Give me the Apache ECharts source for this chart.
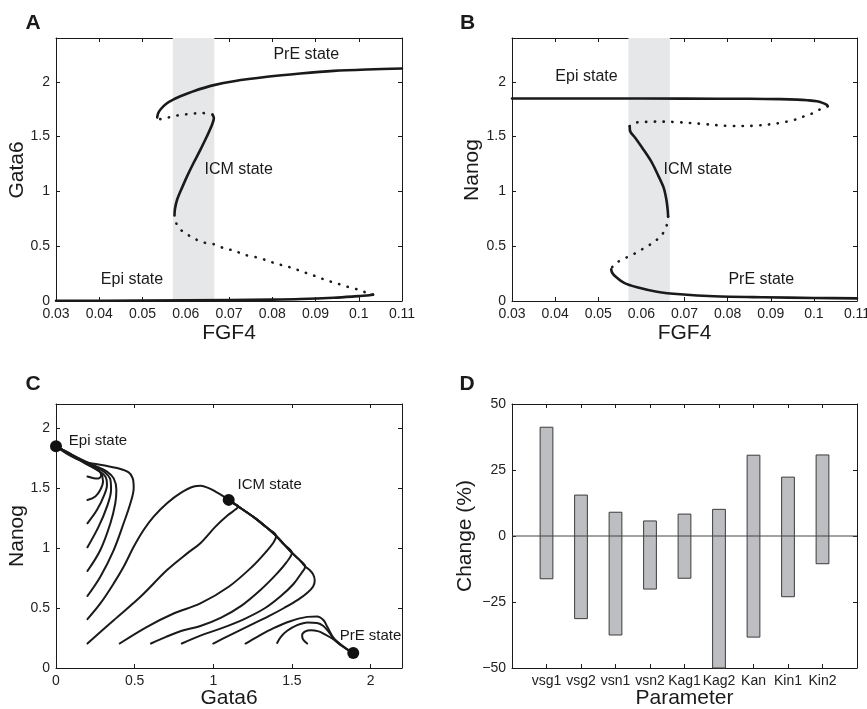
<!DOCTYPE html>
<html><head><meta charset="utf-8">
<script src="https://cdn.jsdelivr.net/npm/echarts@6/dist/echarts.min.js"></script>
<style>html,body{margin:0;padding:0;background:#fff}#c{width:867px;height:709px}</style>
</head><body><div id="c"></div><script>
const FONT = 'Liberation Sans, Arial, Helvetica, sans-serif';
const INK = '#1a1a1a';

// ---------- Panel A : Gata6 vs FGF4 ----------
const shadeRange = [0.057, 0.0666];
const aEpiStable = [[0.03,0.002],[0.05,0.004],[0.07,0.009],[0.08,0.013],[0.0865,0.018],[0.0942,0.03],[0.0985,0.04],[0.1004,0.046],[0.1025,0.053],[0.1033,0.058]];
const aUnstableLow = [[0.1033,0.058],[0.1015,0.08],[0.0996,0.107],[0.0973,0.131],[0.095,0.16],[0.093,0.183],[0.0907,0.216],[0.0888,0.244],[0.0869,0.268],[0.0848,0.30],[0.0826,0.323],[0.0806,0.345],[0.0784,0.375],[0.0762,0.40],[0.0738,0.42],[0.0711,0.46],[0.0688,0.482],[0.0665,0.518],[0.0641,0.534],[0.0618,0.573],[0.0599,0.619],[0.0587,0.655],[0.0578,0.71],[0.0574,0.78]];
const aIcmStable = [[0.0574,0.78],[0.0575,0.84],[0.058,0.924],[0.0591,1.03],[0.0603,1.137],[0.0618,1.259],[0.0634,1.381],[0.0649,1.503],[0.0661,1.61],[0.0665,1.67],[0.0662,1.70]];
const aUnstableHigh = [[0.0662,1.70],[0.0653,1.71],[0.0634,1.716],[0.0611,1.707],[0.0591,1.70],[0.0572,1.686],[0.0553,1.668],[0.0541,1.66],[0.0534,1.675]];
const aPrEStable = [[0.0534,1.675],[0.0536,1.71],[0.0542,1.75],[0.0555,1.80],[0.0572,1.84],[0.0595,1.88],[0.0618,1.915],[0.0665,1.97],[0.0711,2.006],[0.0788,2.046],[0.0865,2.076],[0.0942,2.10],[0.1019,2.113],[0.11,2.122]];

// ---------- Panel B : Nanog vs FGF4 ----------
const bEpiStable = [[0.03,1.848],[0.05,1.848],[0.07,1.847],[0.085,1.845],[0.0922,1.842],[0.0961,1.838],[0.0985,1.832],[0.1007,1.823],[0.102,1.808],[0.103,1.79],[0.1032,1.777]];
const bUnstableHigh = [[0.1032,1.777],[0.1015,1.75],[0.0999,1.716],[0.098,1.69],[0.0961,1.66],[0.0935,1.635],[0.0914,1.62],[0.0885,1.607],[0.0853,1.598],[0.082,1.597],[0.0791,1.60],[0.076,1.61],[0.0729,1.62],[0.07,1.628],[0.0667,1.635],[0.064,1.637],[0.0613,1.635],[0.0595,1.632],[0.0582,1.625],[0.0575,1.61],[0.0573,1.595]];
const bIcmStable = [[0.0573,1.595],[0.0574,1.549],[0.0586,1.488],[0.0605,1.381],[0.0625,1.259],[0.064,1.137],[0.0652,1.03],[0.0658,0.924],[0.0661,0.832],[0.0662,0.771]];
const bUnstableLow = [[0.0662,0.771],[0.066,0.71],[0.0655,0.65],[0.0644,0.588],[0.0625,0.527],[0.0605,0.48],[0.0586,0.436],[0.0567,0.40],[0.0547,0.36],[0.0536,0.33],[0.053,0.29]];
const bPrEStable = [[0.053,0.29],[0.0532,0.26],[0.054,0.223],[0.0559,0.168],[0.059,0.125],[0.0636,0.085],[0.069,0.061],[0.0768,0.043],[0.0883,0.034],[0.1,0.028],[0.11,0.024]];

// ---------- Panel C : trajectories Nanog vs Gata6 ----------
const cEpi1 = [[0.2,1.596],[0.24,1.582],[0.27,1.58],[0.287,1.605],[0.28,1.635],[0.25,1.665],[0.2,1.70],[0.13,1.75],[0.06,1.805],[0,1.847]];
const cEpi2 = [[0.2,1.40],[0.25,1.429],[0.282,1.485],[0.299,1.554],[0.286,1.624],[0.24,1.67],[0.16,1.73],[0.08,1.79],[0,1.847]];
const cEpi3 = [[0.2,1.206],[0.261,1.318],[0.307,1.443],[0.324,1.526],[0.314,1.596],[0.271,1.643],[0.2,1.695],[0.12,1.755],[0.05,1.812],[0,1.847]];
const cEpi4 = [[0.2,1.006],[0.271,1.178],[0.324,1.345],[0.35,1.485],[0.346,1.568],[0.303,1.637],[0.22,1.695],[0.13,1.755],[0.06,1.805],[0,1.847]];
const cEpi5 = [[0.2,0.808],[0.282,0.983],[0.346,1.206],[0.377,1.373],[0.384,1.485],[0.367,1.58],[0.324,1.637],[0.25,1.685],[0.15,1.745],[0.07,1.80],[0,1.847]];
const cEpi6 = [[0.2,0.6],[0.282,0.76],[0.367,0.983],[0.43,1.206],[0.473,1.373],[0.494,1.50],[0.488,1.58],[0.462,1.63],[0.388,1.666],[0.3,1.69],[0.176,1.72],[0.09,1.77],[0,1.847]];
const cIcmPeak = [[0.2,0.407],[0.282,0.538],[0.367,0.705],[0.43,0.844],[0.494,1.01],[0.557,1.15],[0.621,1.262],[0.706,1.373],[0.791,1.457],[0.876,1.512],[0.92,1.518],[0.971,1.499],[1.014,1.47],[1.06,1.435],[1.098,1.401]];
const cManifold = [[1.585,0.845],[1.545,0.905],[1.50,0.96],[1.45,1.03],[1.40,1.10],[1.34,1.17],[1.27,1.245],[1.21,1.30],[1.16,1.345],[1.13,1.372],[1.098,1.401]];
const cIcmRise1 = [[0.2,0.204],[0.367,0.398],[0.537,0.593],[0.706,0.816],[0.834,0.955],[0.918,1.04],[1.014,1.178],[1.09,1.27],[1.14,1.32],[1.16,1.345]];
const cIcmRise2 = [[0.405,0.204],[0.579,0.343],[0.748,0.454],[0.918,0.538],[1.098,0.677],[1.247,0.844],[1.34,0.975],[1.385,1.05],[1.40,1.10]];
const cIcmRise3 = [[0.604,0.204],[0.70,0.26],[0.80,0.31],[0.918,0.35],[1.05,0.42],[1.18,0.52],[1.30,0.65],[1.40,0.78],[1.465,0.88],[1.50,0.96]];
const cIcmRise4 = [[0.8,0.204],[0.918,0.27],[1.05,0.33],[1.2,0.41],[1.33,0.50],[1.43,0.60],[1.51,0.70],[1.56,0.79],[1.585,0.845]];
const cIcmRise5 = [[1.0,0.204],[1.1,0.27],[1.236,0.357],[1.35,0.43],[1.45,0.50],[1.54,0.57],[1.60,0.63],[1.635,0.68],[1.645,0.73],[1.635,0.78],[1.61,0.82],[1.585,0.845]];
const cPrE1 = [[1.205,0.204],[1.28,0.26],[1.38,0.33],[1.49,0.39],[1.597,0.426],[1.66,0.43],[1.70,0.40],[1.725,0.343],[1.767,0.246],[1.83,0.176],[1.89,0.125]];
const cPrE2 = [[1.406,0.209],[1.43,0.26],[1.47,0.31],[1.53,0.355],[1.60,0.38],[1.66,0.375],[1.70,0.35],[1.735,0.30],[1.77,0.24],[1.83,0.175],[1.89,0.125]];
const cPrE3 = [[1.597,0.204],[1.57,0.24],[1.565,0.275],[1.585,0.305],[1.62,0.315],[1.67,0.305],[1.71,0.28],[1.756,0.246],[1.81,0.19],[1.89,0.125]];
const cStates = [[0,1.847],[1.098,1.401],[1.89,0.125]];

// ---------- Panel D : parameter sensitivity ----------
const dParams = ['vsg1','vsg2','vsn1','vsn2','Kag1','Kag2','Kan','Kin1','Kin2'];
const dHigh = [41.2, 15.5, 9.0, 5.7, 8.3, 10.1, 30.6, 22.3, 30.7];
const dLow  = [-16.2, -31.3, -37.5, -20.1, -16.0, -50, -38.3, -23.0, -10.5];

function joinManifold(rise, fromIdx){ return rise.concat(cManifold.slice(fromIdx)); }
const cIcm1 = joinManifold(cIcmRise1, 9);
const cIcm2 = joinManifold(cIcmRise2, 5);
const cIcm3 = joinManifold(cIcmRise3, 3);
const cIcm4 = joinManifold(cIcmRise4, 1);
const cIcm5 = joinManifold(cIcmRise5, 1);

// ---------- layout ----------
const grids = [
  {left:56, top:38, width:346, height:263},
  {left:512, top:38, width:345, height:263},
  {left:56, top:404, width:346, height:264},
  {left:512, top:404, width:345, height:264}
].map(g => Object.assign(g, {outerBoundsMode:'none', containLabel:false}));

function fmtStep(step){ return v => { const k = v/step; return Math.abs(k-Math.round(k))<1e-6 ? String(+v.toFixed(2)) : ''; }; }
const xAxes = [], yAxes = [];
function addAxes(list, kind, gi, min, max, interval, fmt, margin){
  const common = {type:'value', gridIndex:gi, min, max, interval, scale:false,
    splitLine:{show:false},
    axisLine:{show:true, onZero:false, lineStyle:{color:INK, width:1}},
    axisTick:{show:true, inside:true, length:4, lineStyle:{color:INK, width:1}}};
  list.push(Object.assign({}, common, {position: kind==='x'?'bottom':'left',
    axisLabel:{show:true, margin, color:'#222', fontSize:14, fontFamily:FONT, formatter:fmt, showMinLabel:true, showMaxLabel:true, hideOverlap:false}}));
  list.push(Object.assign({}, common, {position: kind==='x'?'top':'right', axisLabel:{show:false}}));
}
// A
addAxes(xAxes,'x',0,0.03,0.11,0.01,fmtStep(0.01),6);
addAxes(yAxes,'y',0,0,2.4,0.5,fmtStep(0.5),6);
// B
addAxes(xAxes,'x',1,0.03,0.11,0.01,fmtStep(0.01),6);
addAxes(yAxes,'y',1,0,2.4,0.5,fmtStep(0.5),6);
// C
addAxes(xAxes,'x',2,0,2.2,0.5,fmtStep(0.5),6);
addAxes(yAxes,'y',2,0,2.2,0.5,fmtStep(0.5),6);
// D
addAxes(xAxes,'x',3,0,10,1,v => (v>=1 && v<=9) ? dParams[v-1] : '',6);
addAxes(yAxes,'y',3,-50,50,25,v => v<0 ? '\u2212'+Math.abs(v) : String(v),6);

const solid = {color:INK, width:2.6, cap:'round', join:'round'};
const dotted = {color:INK, width:2.6, type:[0.3, 8.5], cap:'round'};
function line(gi, data, style, extra){
  return Object.assign({type:'line', xAxisIndex:gi*2, yAxisIndex:gi*2, data, showSymbol:false, symbol:'none',
    smooth:0.3, lineStyle:style, silent:true, z:3}, extra||{});
}
const shade = {silent:true, itemStyle:{color:'#e6e7e9', opacity:1}, data:[[{xAxis:shadeRange[0]},{xAxis:shadeRange[1]}]]};

const series = [
  line(0, aEpiStable, solid, {markArea:shade}),
  line(0, aUnstableLow, dotted),
  line(0, aIcmStable, solid),
  line(0, aUnstableHigh, dotted),
  line(0, aPrEStable, solid),
  line(1, bEpiStable, solid, {markArea:shade}),
  line(1, bUnstableHigh, dotted),
  line(1, bIcmStable, solid),
  line(1, bUnstableLow, dotted),
  line(1, bPrEStable, solid)
];
const thin = {color:INK, width:2, cap:'round', join:'round'};
[cEpi1,cEpi2,cEpi3,cEpi4,cEpi5,cEpi6,cIcmPeak,cIcm1,cIcm2,cIcm3,cIcm4,cIcm5,cPrE1,cPrE2,cPrE3]
  .forEach(d => series.push(line(2, d, thin, {smooth:0.35})));
series.push({type:'scatter', xAxisIndex:4, yAxisIndex:4, data:cStates, symbol:'circle', symbolSize:12,
  itemStyle:{color:'#111', opacity:1, borderWidth:0}, clip:false, silent:true, z:5});
series.push({type:'custom', xAxisIndex:6, yAxisIndex:6, silent:true, z:2,
  data: dParams.map((p,i) => [i+1, dLow[i], dHigh[i]]),
  encode:{x:0, y:[1,2]},
  renderItem(params, api){
    const x = api.value(0);
    const lo = api.coord([x, api.value(1)]);
    const hi = api.coord([x, api.value(2)]);
    const w = api.size([0.37, 0])[0];
    return {type:'rect', shape:{x:lo[0]-w/2, y:hi[1], width:w, height:lo[1]-hi[1]},
      style:{fill:'#bdbec1', stroke:'#3c3c3c', lineWidth:1}};
  }});
series.push({type:'line', xAxisIndex:6, yAxisIndex:6, data:[[0,0],[10,0]], showSymbol:false, symbol:'none',
  lineStyle:{color:'#444', width:1}, silent:true, z:4});

function txt(text, x, y, size, opt){
  opt = opt || {};
  return {type:'text', x, y, rotation:opt.rot||0, silent:true, z:10,
    style:{text, fill:'#1a1a1a', font:(opt.bold?'bold ':'')+size+'px '+FONT,
      align:'center', verticalAlign:'middle', textAlign:'center', textVerticalAlign:'middle'}};
}
const R = Math.PI/2;
const graphic = [
  txt('A', 33, 23, 21, {bold:true}), txt('B', 467.5, 23, 21, {bold:true}),
  txt('C', 33, 384, 21, {bold:true}), txt('D', 467, 384, 21, {bold:true}),
  txt('FGF4', 229, 333, 21), txt('FGF4', 684.5, 333, 21),
  txt('Gata6', 229, 698, 21), txt('Parameter', 684.5, 698, 21),
  txt('Gata6', 17, 170, 21, {rot:R}), txt('Nanog', 472.5, 170, 21, {rot:R}),
  txt('Nanog', 17, 536, 21, {rot:R}), txt('Change (%)', 465, 536, 21, {rot:R}),
  txt('PrE state', 306.3, 54.5, 16), txt('ICM state', 238.7, 170, 16), txt('Epi state', 132, 280, 16),
  txt('Epi state', 586.5, 77, 16), txt('ICM state', 697.8, 170, 16), txt('PrE state', 761.3, 280, 16),
  txt('Epi state', 98, 440.5, 15), txt('ICM state', 269.7, 485, 15), txt('PrE state', 370.5, 636, 15)
];

const chart = echarts.init(document.getElementById('c'), null, {renderer:'canvas'});
chart.setOption({animation:false, backgroundColor:'#fff', grid:grids, xAxis:xAxes, yAxis:yAxes, series, graphic});
</script></body></html>
